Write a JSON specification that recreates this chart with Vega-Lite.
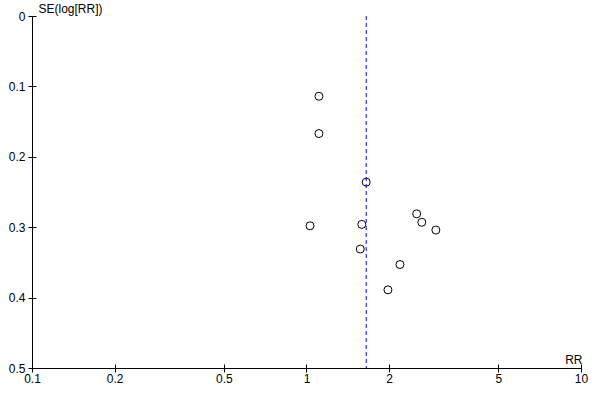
{
  "$schema": "https://vega.github.io/schema/vega-lite/v6.json",
  "width": 549,
  "height": 352,
  "autosize": {"type": "none"},
  "padding": {"left": 32, "top": 16, "right": 19, "bottom": 32},
  "background": "white",
  "config": {
    "view": {"stroke": null},
    "font": "Liberation Sans",
    "axis": {
      "grid": false,
      "domainColor": "black",
      "domainWidth": 1,
      "tickColor": "black",
      "tickWidth": 1,
      "labelColor": "black",
      "labelFont": "Liberation Sans",
      "labelFontSize": 12,
      "titleFont": "Liberation Sans",
      "titleFontSize": 12,
      "titleFontWeight": "normal",
      "titleColor": "black"
    }
  },
  "datasets": {
    "studies": [
      {"rr": 1.11, "se": 0.114},
      {"rr": 1.11, "se": 0.167},
      {"rr": 1.65, "se": 0.236},
      {"rr": 1.03, "se": 0.298},
      {"rr": 1.59, "se": 0.296},
      {"rr": 1.57, "se": 0.331},
      {"rr": 2.52, "se": 0.281},
      {"rr": 2.63, "se": 0.293},
      {"rr": 2.96, "se": 0.304},
      {"rr": 2.19, "se": 0.353},
      {"rr": 1.98, "se": 0.389}
    ],
    "pooled": [{"rr": 1.65}]
  },
  "resolve": {"axis": {"x": "independent", "y": "independent"}},
  "layer": [
    {
      "data": {"name": "pooled"},
      "mark": {"type": "rule", "color": "#0000ff", "strokeWidth": 1, "strokeDash": [4, 3]},
      "encoding": {
        "x": {"field": "rr", "type": "quantitative", "scale": {"type": "log", "domain": [0.1, 10], "nice": false}, "axis": null}
      }
    },
    {
      "data": {"name": "studies"},
      "mark": {"type": "point", "shape": "circle", "size": 64, "filled": false, "color": "black", "strokeWidth": 1, "opacity": 1},
      "encoding": {
        "x": {
          "field": "rr", "type": "quantitative",
          "scale": {"type": "log", "domain": [0.1, 10], "nice": false},
          "axis": {
            "orient": "bottom",
            "values": [0.1, 0.2, 0.5, 1, 2, 5, 10],
            "format": "~g",
            "tickSize": 4,
            "labelPadding": 1,
            "labelFlush": false,
            "labelOverlap": false,
            "title": "RR",
            "titleAnchor": null,
            "titleX": 550,
            "titleY": -5,
            "titleAlign": "right",
            "titleBaseline": "alphabetic"
          }
        },
        "y": {
          "field": "se", "type": "quantitative",
          "scale": {"domain": [0, 0.5], "reverse": true, "nice": false, "zero": true},
          "axis": {
            "orient": "left",
            "values": [0, 0.1, 0.2, 0.3, 0.4, 0.5],
            "format": "~g",
            "tickSize": 4,
            "labelPadding": 3,
            "labelFlush": false,
            "labelOverlap": false,
            "title": "SE(log[RR])",
            "titleAngle": 0,
            "titleAnchor": null,
            "titleX": 6,
            "titleY": -4,
            "titleAlign": "left",
            "titleBaseline": "alphabetic"
          }
        }
      }
    },
    {
      "data": {"name": "studies"},
      "mark": {"type": "point", "opacity": 0},
      "encoding": {
        "x": {
          "field": "rr", "type": "quantitative",
          "axis": {"orient": "bottom", "values": [0.1, 0.2, 0.5, 1, 2, 5, 10], "domain": false, "labels": false, "tickSize": -4, "title": null}
        },
        "y": {
          "field": "se", "type": "quantitative",
          "axis": {"orient": "left", "values": [0, 0.1, 0.2, 0.3, 0.4, 0.5], "domain": false, "labels": false, "tickSize": -4, "title": null}
        }
      }
    }
  ]
}
